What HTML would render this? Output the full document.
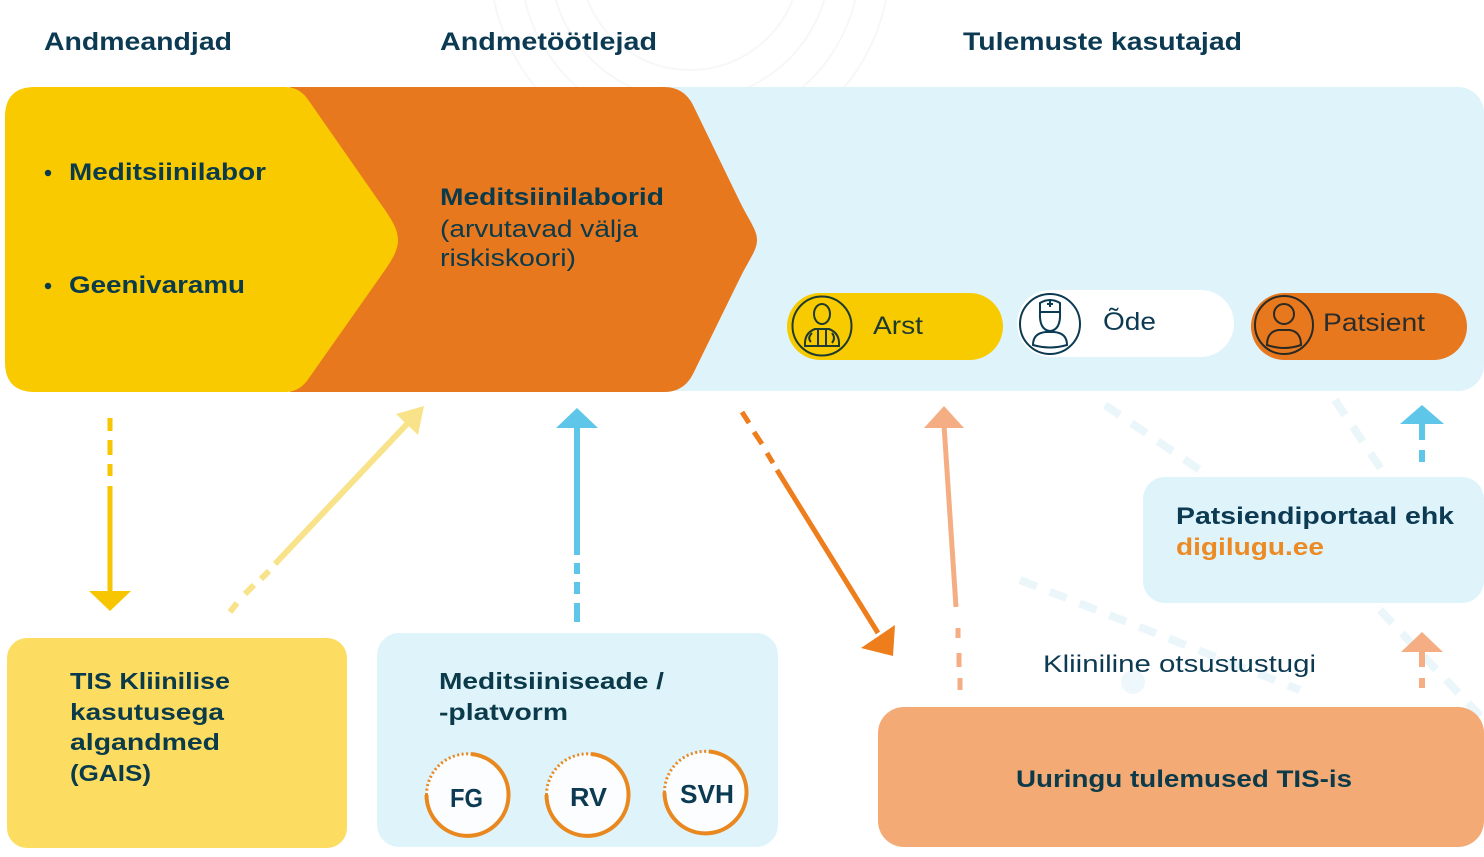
<!DOCTYPE html>
<html><head><meta charset="utf-8"><style>
html,body{margin:0;padding:0;background:#fff;}
svg{display:block;}
text{font-family:"Liberation Sans",sans-serif;}
</style></head><body>
<svg width="1484" height="857" viewBox="0 0 1484 857" xmlns="http://www.w3.org/2000/svg">
<!-- faint background decorations -->
<g fill="none" stroke="#f5f7f9" stroke-width="2">
<circle cx="690" cy="-40" r="110"/>
<circle cx="690" cy="-40" r="140"/>
<circle cx="690" cy="-40" r="170"/>
<circle cx="690" cy="-40" r="200"/>
</g>
<g fill="none" stroke="#ebf6fb" stroke-width="8" stroke-dasharray="18 14">
<line x1="1105" y1="405" x2="1200" y2="470"/>
<line x1="1335" y1="400" x2="1395" y2="490"/>
<line x1="1020" y1="580" x2="1300" y2="690"/>
<line x1="1380" y1="610" x2="1484" y2="720"/>
</g>
<circle cx="1133" cy="682" r="12" fill="#eef8fc"/>

<!-- top band -->
<rect x="600" y="87" width="884" height="304" rx="26" fill="#dff3fa"/>
<path d="M 290 87 L 664 87 Q 684 87 693 105 L 740 202 C 750 222, 757 230, 757 240 C 757 250, 750 258, 740 278 L 693 374 Q 684 392 664 392 L 290 392 Z" fill="#e8781e"/>
<path d="M 35 87 L 285 87 Q 300 87 309 101 L 378 200 C 390 217, 398 228, 398 240 C 398 252, 390 263, 378 280 L 309 378 Q 300 392 285 392 L 35 392 Q 5 392 5 362 L 5 117 Q 5 87 35 87 Z" fill="#f9ca00"/>

<!-- titles -->
<g fill="#0b3a52" font-weight="bold" font-size="25">
<text x="44" y="50" textLength="188" lengthAdjust="spacingAndGlyphs">Andmeandjad</text>
<text x="440" y="50" textLength="217" lengthAdjust="spacingAndGlyphs">Andmetöötlejad</text>
<text x="963" y="50" textLength="279" lengthAdjust="spacingAndGlyphs">Tulemuste kasutajad</text>
</g>

<!-- yellow text -->
<g fill="#0b3a4a" font-weight="bold" font-size="24">
<circle cx="48" cy="173" r="3.2"/>
<circle cx="48" cy="286" r="3.2"/>
<text x="69" y="180" textLength="197" lengthAdjust="spacingAndGlyphs">Meditsiinilabor</text>
<text x="69" y="293" textLength="176" lengthAdjust="spacingAndGlyphs">Geenivaramu</text>
</g>
<!-- orange text -->
<g fill="#0b3a4a" font-size="24">
<text x="440" y="205" font-weight="bold" textLength="224" lengthAdjust="spacingAndGlyphs">Meditsiinilaborid</text>
<text x="440" y="237" textLength="198" lengthAdjust="spacingAndGlyphs">(arvutavad välja</text>
<text x="440" y="266" textLength="136" lengthAdjust="spacingAndGlyphs">riskiskoori)</text>
</g>

<!-- pills -->
<rect x="787" y="293" width="216" height="67" rx="33.5" fill="#f8cb00"/>
<rect x="1017" y="290" width="217" height="67" rx="33.5" fill="#ffffff"/>
<rect x="1251" y="293" width="216" height="67" rx="33.5" fill="#e8781e"/>

<!-- Arst icon -->
<g fill="none" stroke="#1f3a2e" stroke-width="2">
<circle cx="822" cy="326" r="29.5"/>
<ellipse cx="822" cy="314" rx="8" ry="10"/>
<path d="M 805 346 Q 804 333 815 329 L 829 329 Q 840 333 839 346 Z"/>
<path d="M 818 330 L 818 345 M 826 330 L 826 345 M 812 333 Q 807 338 811 342 M 832 333 Q 836 338 832 343"/>
</g>
<!-- Nurse icon -->
<g fill="none" stroke="#0b3a52" stroke-width="2">
<circle cx="1050" cy="324" r="30"/>
<path d="M 1040 312 L 1040 303 Q 1050 297 1060 303 L 1060 312 Z"/>
<path d="M 1050 301 L 1050 307 M 1047 304 L 1053 304"/>
<path d="M 1040 312 Q 1039 330 1050 331 Q 1061 330 1060 312"/>
<path d="M 1033 345 Q 1033 333 1046 332 L 1054 332 Q 1067 333 1067 345 Q 1050 350 1033 345 Z"/>
</g>
<!-- Patient icon -->
<g fill="none" stroke="#2a2a25" stroke-width="2">
<circle cx="1284" cy="325" r="29"/>
<circle cx="1284" cy="314" r="10"/>
<path d="M 1267 345 Q 1267 332 1278 330 L 1290 330 Q 1301 332 1301 345 Q 1284 351 1267 345 Z"/>
</g>

<text x="873" y="334" fill="#1f3a2e" font-size="25" textLength="50" lengthAdjust="spacingAndGlyphs">Arst</text>
<text x="1103" y="330" fill="#0b3a52" font-size="25" textLength="53" lengthAdjust="spacingAndGlyphs">Õde</text>
<text x="1323" y="331" fill="#2a2d2c" font-size="25" textLength="102" lengthAdjust="spacingAndGlyphs">Patsient</text>

<!-- bottom boxes -->
<rect x="7" y="638" width="340" height="210" rx="20" fill="#fcdd62"/>
<rect x="377" y="633" width="401" height="214" rx="22" fill="#dff3fa"/>
<rect x="1143" y="477" width="341" height="126" rx="22" fill="#dff3fa"/>
<rect x="878" y="707" width="606" height="140" rx="26" fill="#f4aa74"/>

<g fill="#0b3a4a" font-weight="bold" font-size="23">
<text x="70" y="689" textLength="160" lengthAdjust="spacingAndGlyphs">TIS Kliinilise</text>
<text x="70" y="720" textLength="154" lengthAdjust="spacingAndGlyphs">kasutusega</text>
<text x="70" y="750" textLength="150" lengthAdjust="spacingAndGlyphs">algandmed</text>
<text x="70" y="781" textLength="81" lengthAdjust="spacingAndGlyphs">(GAIS)</text>
<text x="439" y="689" textLength="225" lengthAdjust="spacingAndGlyphs">Meditsiiniseade /</text>
<text x="439" y="720" textLength="129" lengthAdjust="spacingAndGlyphs">-platvorm</text>
</g>

<!-- device circles -->
<g fill="#fbfdfe">
<circle cx="467.5" cy="795" r="41"/>
<circle cx="587.5" cy="795" r="41"/>
<circle cx="705.5" cy="792.5" r="41"/>
</g>
<g fill="none" stroke="#e8881e">
<path d="M 471 754 A 41 41 0 1 1 426.5 795" stroke-width="4"/>
<path d="M 426.5 795 A 41 41 0 0 1 471 754" stroke-width="3" stroke-dasharray="2 2.5"/>
<path d="M 591 754 A 41 41 0 1 1 546.5 795" stroke-width="4"/>
<path d="M 546.5 795 A 41 41 0 0 1 591 754" stroke-width="3" stroke-dasharray="2 2.5"/>
<path d="M 709 751.5 A 41 41 0 1 1 664.5 792.5" stroke-width="4"/>
<path d="M 664.5 792.5 A 41 41 0 0 1 709 751.5" stroke-width="3" stroke-dasharray="2 2.5"/>
</g>
<g fill="#0b3a52" font-weight="bold" font-size="26">
<text x="450" y="807" textLength="33" lengthAdjust="spacingAndGlyphs">FG</text>
<text x="570" y="806" textLength="37" lengthAdjust="spacingAndGlyphs">RV</text>
<text x="680" y="803" textLength="54" lengthAdjust="spacingAndGlyphs">SVH</text>
</g>

<g font-weight="bold" font-size="24">
<text x="1176" y="524" fill="#0b3a52" textLength="278" lengthAdjust="spacingAndGlyphs">Patsiendiportaal ehk</text>
<text x="1176" y="555" fill="#ec8a24" textLength="148" lengthAdjust="spacingAndGlyphs">digilugu.ee</text>
<text x="1016" y="787" fill="#0b3a4a" textLength="336" lengthAdjust="spacingAndGlyphs">Uuringu tulemused TIS-is</text>
</g>
<text x="1043" y="672" fill="#0b3a52" font-size="24" textLength="273" lengthAdjust="spacingAndGlyphs">Kliiniline otsustustugi</text>

<!-- arrows -->
<!-- yellow down -->
<g stroke="#f7c600" stroke-width="5" fill="none">
<line x1="110" y1="418" x2="110" y2="431"/>
<line x1="110" y1="440" x2="110" y2="455"/>
<line x1="110" y1="464" x2="110" y2="476"/>
<line x1="110" y1="486" x2="110" y2="592"/>
</g>
<polygon points="89,591 131,591 110,611" fill="#f7c600"/>

<!-- light yellow diagonal -->
<g stroke="#f8e38a" stroke-width="6" fill="none">
<line x1="407" y1="424" x2="275" y2="564"/>
<line x1="269" y1="571" x2="261" y2="579"/>
<line x1="254" y1="585" x2="245" y2="594"/>
<line x1="237" y1="603" x2="230" y2="612"/>
</g>
<polygon points="424,406 396,414 418,435" fill="#f8e38a"/>

<!-- blue up -->
<g stroke="#5ec6e8" stroke-width="6" fill="none">
<line x1="577" y1="426" x2="577" y2="555"/>
<line x1="577" y1="563" x2="577" y2="574"/>
<line x1="577" y1="582" x2="577" y2="594"/>
<line x1="577" y1="603" x2="577" y2="622"/>
</g>
<polygon points="577,408 556,428 598,428" fill="#5ec6e8"/>

<!-- orange diagonal -->
<g stroke="#ee7d1c" stroke-width="5" fill="none">
<line x1="742" y1="412" x2="749" y2="423"/>
<line x1="754" y1="432" x2="762" y2="444"/>
<line x1="767" y1="453" x2="773" y2="463"/>
<line x1="777" y1="470" x2="878" y2="633"/>
</g>
<polygon points="893,656 861,648 895,625" fill="#ee7d1c"/>

<!-- light orange up -->
<g stroke="#f5ae84" stroke-width="5" fill="none">
<line x1="944" y1="425" x2="956" y2="607"/>
<line x1="958" y1="628" x2="958" y2="638"/>
<line x1="959" y1="653" x2="959" y2="667"/>
<line x1="960" y1="678" x2="960" y2="690"/>
</g>
<polygon points="944,406 924,428 964,428" fill="#f5ae84"/>

<!-- right blue small -->
<g stroke="#5ec6e8" stroke-width="6" fill="none">
<line x1="1422" y1="421" x2="1422" y2="440"/>
<line x1="1422" y1="450" x2="1422" y2="462"/>
</g>
<polygon points="1422,405 1400,424 1444,424" fill="#5ec6e8"/>

<!-- right light orange small -->
<g stroke="#f5ae84" stroke-width="6" fill="none">
<line x1="1422" y1="650" x2="1422" y2="667"/>
<line x1="1422" y1="678" x2="1422" y2="688"/>
</g>
<polygon points="1422,632 1401,652 1443,652" fill="#f5ae84"/>
</svg>
</body></html>
